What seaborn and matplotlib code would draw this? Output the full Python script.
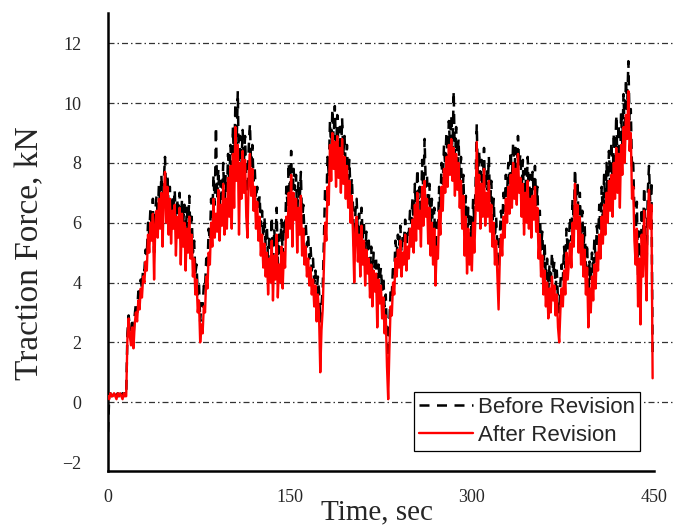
import numpy as np
import pandas as pd
import matplotlib
matplotlib.use("Agg")
import matplotlib.pyplot as plt
import seaborn as sns

# Traction force after revision, sampled every 1 s (t = 0 .. 449 s), kN
after_revision = [
    0.2, 0.1, 0.3, 0.2, 0.2, 0.3, 0.2, 0.1, 0.3, 0.2,
    0.3, 0.2, 0.1, 0.3, 0.2, 0.2, 2.1, 2.8, 2.2, 1.9,
    2.5, 1.8, 2.6, 3.0, 2.7, 3.4, 3.1, 3.8, 3.5, 4.2,
    4.0, 4.7, 4.4, 5.6, 5.0, 6.0, 5.4, 6.3, 4.1, 5.9,
    6.4, 5.5, 6.8, 5.8, 7.0, 5.2, 6.9, 7.7, 6.0, 7.2,
    5.6, 6.8, 5.3, 6.4, 5.8, 6.6, 4.9, 6.2, 5.5, 6.5,
    4.6, 6.3, 5.2, 6.0, 4.4, 5.8, 5.0, 6.2, 4.8, 5.6,
    4.2, 4.8, 3.6, 4.1, 3.0, 3.4, 2.0, 2.6, 2.3, 3.2,
    3.0, 4.2, 3.8, 5.0, 4.6, 6.0, 5.2, 6.8, 5.5, 6.3,
    5.7, 7.1, 5.4, 6.6, 5.9, 7.3, 5.6, 6.8, 5.8, 7.5,
    6.2, 7.9, 5.8, 8.3, 6.5, 9.2, 7.4, 8.6, 5.6, 8.0,
    6.8, 8.4, 7.0, 8.1, 6.2, 5.5, 7.6, 8.3, 6.9, 7.8,
    6.4, 7.2, 5.8, 6.7, 5.4, 6.2, 4.9, 5.6, 4.5, 5.3,
    4.2, 5.0, 3.6, 4.8, 4.0, 5.4, 3.4, 4.9, 4.1, 5.6,
    3.5, 4.6, 4.0, 5.2, 3.8, 5.0, 4.5, 6.2, 5.5, 7.0,
    5.8, 7.6, 5.2, 7.0, 6.1, 6.8, 5.0, 6.5, 5.6, 6.9,
    4.9, 5.8, 4.6, 5.2, 4.2, 4.8, 3.9, 4.5, 3.6, 4.1,
    3.2, 3.9, 2.7, 3.6, 2.9, 1.0, 2.4, 3.1, 4.5, 6.0,
    5.4, 7.2, 6.6, 8.6, 7.4, 9.0, 7.8, 8.7, 7.2, 8.9,
    7.5, 8.5, 7.0, 8.8, 7.3, 8.2, 6.8, 7.9, 6.5, 7.4,
    6.0, 6.9, 5.6, 4.0, 5.8, 6.2, 4.7, 5.6, 4.2, 5.9,
    4.6, 5.4, 3.9, 5.1, 4.3, 4.8, 3.5, 4.6, 3.2, 4.4,
    3.7, 4.3, 2.5, 4.1, 3.3, 3.9, 2.8, 3.5, 2.3, 2.9,
    1.2, 0.1, 1.8, 3.2, 2.9, 4.0, 3.6, 4.8, 4.2, 5.1,
    4.5, 5.4, 4.2, 5.0, 4.6, 5.6, 4.4, 5.2, 4.8, 5.8,
    5.2, 6.1, 5.0, 6.6, 5.4, 7.0, 5.8, 6.4, 5.2, 7.2,
    5.9, 7.4, 6.2, 6.8, 5.3, 6.5, 4.9, 6.0, 4.6, 5.8,
    3.9, 5.2, 4.8, 6.4, 5.6, 7.2, 6.4, 7.8, 7.0, 8.2,
    7.2, 8.6, 7.6, 8.8, 7.4, 8.5, 6.9, 8.3, 7.1, 8.0,
    6.5, 7.4, 5.8, 6.9, 4.9, 6.2, 4.3, 5.8, 4.6, 5.5,
    4.4, 6.0, 5.0, 6.3, 8.7, 6.4, 7.6, 5.8, 7.3, 6.2,
    7.8, 5.9, 7.0, 6.2, 7.4, 5.7, 6.6, 5.2, 6.0, 4.6,
    5.4, 4.2, 3.1, 4.8, 5.6, 4.9, 6.2, 5.5, 6.8, 6.0,
    7.2, 6.3, 7.6, 6.5, 8.0, 6.8, 7.8, 6.6, 8.3, 7.0,
    7.5, 6.2, 7.3, 5.6, 7.0, 6.0, 7.4, 5.8, 6.8, 5.5,
    6.9, 6.1, 7.2, 5.7, 6.5, 4.8, 5.6, 4.2, 4.9, 3.6,
    4.4, 3.2, 4.0, 2.8, 3.8, 3.0, 4.2, 3.4, 3.9, 2.9,
    3.6, 2.5, 2.0, 3.1, 3.8, 3.2, 4.4, 3.6, 5.0, 4.1,
    4.7, 5.3, 4.5, 6.0, 5.2, 7.3, 5.8, 6.6, 5.0, 6.2,
    4.6, 5.6, 4.2, 5.1, 3.6, 4.5, 2.5, 3.8, 3.0, 4.2,
    3.4, 4.6, 3.8, 5.0, 4.4, 5.6, 4.8, 6.2, 5.3, 6.6,
    5.6, 7.0, 6.0, 7.4, 6.4, 7.6, 6.2, 8.0, 6.8, 8.5,
    7.0, 8.3, 6.5, 8.6, 7.6, 9.2, 8.0, 9.6, 8.8, 10.4,
    8.4, 9.0, 6.8, 7.2, 5.4, 4.6, 5.8, 3.2, 4.8, 2.6,
    5.6, 4.2, 6.4, 4.8, 3.4, 6.2, 7.1, 5.8, 6.6, 0.8,
]

# Traction force before revision, sampled every 1 s (t = 0 .. 449 s), kN
before_revision = [
    -1.0, 0.2, 0.3, 0.2, 0.3, 0.2, 0.3, 0.2, 0.3, 0.2,
    0.3, 0.2, 0.3, 0.2, 0.3, 0.2, 2.3, 2.9, 2.5, 2.4,
    2.8, 2.2, 2.9, 3.3, 3.0, 3.7, 3.4, 4.1, 3.8, 4.5,
    4.4, 5.1, 4.9, 6.0, 5.6, 6.5, 5.9, 6.8, 5.0, 6.4,
    6.9, 6.2, 7.3, 6.5, 7.6, 6.4, 7.4, 8.2, 6.8, 7.6,
    6.4, 7.2, 6.0, 6.9, 6.4, 7.1, 5.8, 6.8, 6.2, 7.0,
    5.6, 6.8, 6.0, 6.6, 5.4, 6.5, 5.8, 6.9, 5.6, 6.2,
    5.0, 5.4, 4.3, 4.6, 3.6, 4.0, 2.7, 3.3, 3.2, 3.9,
    3.8, 4.8, 4.5, 5.8, 5.4, 6.8, 6.2, 7.6, 6.6, 9.2,
    6.8, 7.8, 6.5, 7.4, 6.8, 8.0, 6.6, 7.6, 6.9, 8.3,
    7.3, 8.6, 7.0, 9.2, 7.8, 10.0, 8.5, 10.4, 7.4, 8.9,
    7.9, 9.1, 8.0, 8.9, 7.4, 7.0, 8.5, 9.3, 7.9, 8.6,
    7.4, 7.8, 6.8, 7.2, 6.4, 6.9, 5.9, 6.4, 5.5, 6.2,
    5.2, 5.9, 4.6, 5.6, 5.0, 6.2, 4.5, 5.8, 5.2, 6.5,
    4.6, 5.6, 5.0, 6.1, 4.9, 6.0, 5.6, 7.2, 6.6, 8.0,
    6.9, 8.4, 6.4, 7.8, 7.1, 7.6, 6.2, 7.4, 6.7, 7.7,
    6.0, 6.6, 5.6, 6.0, 5.2, 5.6, 4.8, 5.2, 4.4, 4.8,
    4.0, 4.4, 3.6, 4.2, 3.7, 2.7, 3.2, 3.8, 5.4, 7.2,
    6.6, 8.2, 7.6, 9.4, 8.4, 9.8, 8.8, 9.9, 8.3, 9.6,
    8.5, 9.2, 8.0, 9.5, 8.3, 8.9, 7.8, 8.6, 7.4, 8.1,
    6.9, 7.5, 6.5, 5.0, 6.4, 6.8, 5.6, 6.3, 5.2, 6.5,
    5.5, 6.0, 4.8, 5.7, 5.1, 5.4, 4.4, 5.2, 4.1, 5.0,
    4.5, 4.8, 3.5, 4.6, 4.1, 4.5, 3.7, 4.2, 3.2, 3.6,
    2.1, 1.5, 2.6, 3.8, 3.6, 4.6, 4.3, 5.4, 4.9, 5.6,
    5.2, 5.9, 5.0, 5.6, 5.4, 6.1, 5.2, 5.8, 5.6, 6.4,
    6.0, 6.8, 5.9, 7.3, 6.3, 7.8, 6.8, 7.2, 6.2, 8.1,
    6.9, 8.8, 7.2, 7.6, 6.2, 7.3, 5.8, 6.8, 5.5, 6.5,
    4.8, 6.0, 5.7, 7.2, 6.5, 8.0, 7.3, 8.6, 7.9, 9.0,
    8.1, 9.4, 8.5, 9.6, 8.3, 10.4, 7.9, 9.2, 8.0, 8.8,
    7.4, 8.2, 6.7, 7.6, 5.8, 6.9, 5.2, 6.5, 5.5, 6.2,
    5.3, 6.8, 6.0, 7.2, 9.3, 7.3, 8.4, 6.7, 8.1, 7.1,
    8.5, 6.8, 7.8, 7.1, 8.2, 6.6, 7.4, 6.1, 6.8, 5.5,
    6.2, 5.1, 4.2, 5.6, 6.4, 5.8, 7.0, 6.4, 7.6, 6.9,
    8.0, 7.2, 8.4, 7.4, 8.7, 7.6, 8.5, 7.5, 8.9, 7.9,
    8.3, 7.1, 8.1, 6.5, 7.8, 6.9, 8.2, 6.7, 7.6, 6.4,
    7.7, 7.0, 7.9, 6.6, 7.2, 5.7, 6.4, 5.1, 5.7, 4.5,
    5.3, 4.1, 4.8, 3.7, 4.6, 3.9, 5.0, 4.3, 4.7, 3.8,
    4.4, 3.4, 3.0, 4.0, 4.6, 4.1, 5.2, 4.5, 5.8, 5.0,
    5.5, 6.2, 5.4, 6.8, 6.1, 7.8, 6.7, 7.4, 5.9, 7.0,
    5.5, 6.4, 5.1, 5.9, 4.5, 5.3, 3.6, 4.7, 4.0, 5.0,
    4.3, 5.5, 4.7, 5.9, 5.3, 6.6, 5.7, 7.2, 6.2, 7.6,
    6.5, 8.0, 6.9, 8.4, 7.3, 8.7, 7.1, 9.0, 7.8, 9.6,
    8.0, 9.3, 7.5, 9.7, 8.6, 10.3, 9.0, 10.8, 9.8, 11.4,
    9.4, 9.8, 7.8, 8.0, 6.3, 5.5, 6.7, 4.2, 5.7, 3.6,
    6.5, 5.1, 7.2, 5.7, 4.4, 7.0, 7.9, 6.7, 7.4, 1.5,
]

x_ticks = [0, 150, 300, 450]
x_minor_ticks = [75, 225, 375]
y_ticks = [-2, 0, 2, 4, 6, 8, 10, 12]
y_tick_labels = ["\u22122", "0", "2", "4", "6", "8", "10", "12"]

after_df = pd.DataFrame({"time": np.arange(len(after_revision)) * 1.0,
                         "force": after_revision})
before_df = pd.DataFrame({"time": np.arange(len(before_revision)) * 1.0,
                          "force": before_revision})

sns.set_style("white")
plt.rcParams["font.family"] = ["Liberation Serif", "DejaVu Serif"]

fig = plt.figure(figsize=(6.73, 5.25), dpi=100)
ax = fig.add_axes([108 / 673, 54 / 525, 1 - 108 / 673, (471 - 13.3) / 525])

sns.lineplot(data=before_df, x="time", y="force", ax=ax, estimator=None,
             color="black", linewidth=1.8, label="Before Revision",
             linestyle=(0, (4, 3)), zorder=2)
sns.lineplot(data=after_df, x="time", y="force", ax=ax, estimator=None,
             color="#ff0000", linewidth=1.7, label="After Revision", zorder=3)

ax.set_xlim(0, 465.8)
ax.set_ylim(-2.3, 13.0)

ax.set_xticks(x_ticks)
ax.set_xticklabels([str(v) for v in x_ticks])
ax.set_xticks(x_minor_ticks, minor=True)
ax.set_yticks(y_ticks)
ax.set_yticklabels(y_tick_labels)

ax.tick_params(axis="x", which="both", direction="out", length=3.6,
               width=1.8, color="black", pad=9, labelsize=13)
ax.tick_params(axis="y", which="both", length=0, pad=19, labelsize=13)

for side in ("top", "right"):
    ax.spines[side].set_visible(False)
for side in ("left", "bottom"):
    ax.spines[side].set_color("black")
    ax.spines[side].set_linewidth(1.8)
ax.spines["bottom"].set_bounds(0, 450)

ax.grid(axis="y", color="#333333", linewidth=0.9,
        linestyle=(0, (4.8, 2.4, 1.2, 2.4)))
ax.grid(axis="x", visible=False)
ax.yaxis.get_gridlines()[0].set_visible(False)
ax.set_axisbelow(True)

ax.set_xlabel("Time, sec", fontsize=21)
ax.xaxis.set_label_coords((377 - 108) / 565, -0.062)
ax.set_ylabel("Traction Force, kN", fontsize=24)
ax.yaxis.set_label_coords(-0.111, 0.475)

leg = ax.legend(loc="lower right", bbox_to_anchor=(640 / 673, 74 / 525),
                bbox_transform=fig.transFigure, frameon=True, fancybox=False,
                framealpha=1, edgecolor="black", borderaxespad=0,
                handlelength=2.4, handletextpad=0.22, borderpad=0.24,
                labelspacing=0.3,
                prop={"family": ["Liberation Sans", "DejaVu Sans"], "size": 16})
leg.get_frame().set_linewidth(0.9)

fig.savefig("out.png", dpi=100)
